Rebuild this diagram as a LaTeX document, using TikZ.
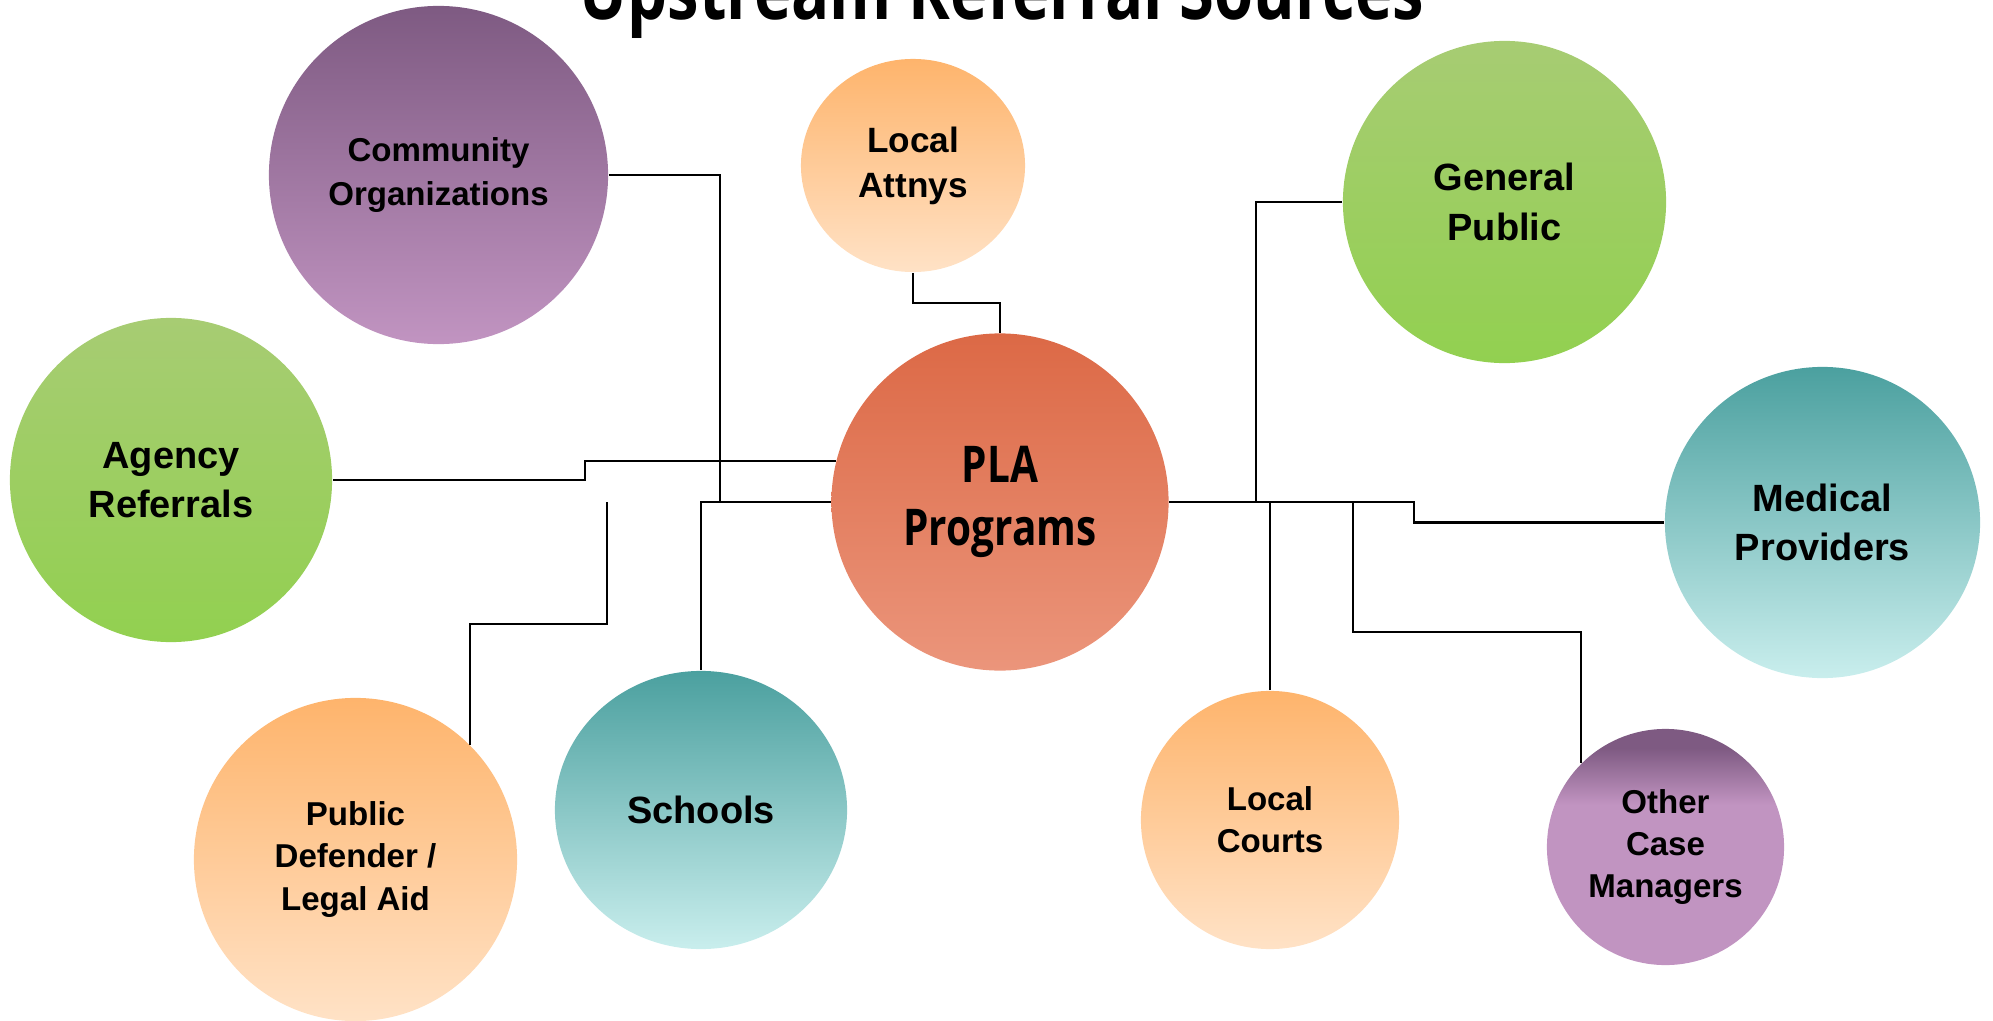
\documentclass[tikz,border=0pt]{standalone}
\usepackage{fontspec}
\setmainfont{Liberation Sans}
\newfontfamily\condfont[FakeStretch=0.8]{Open Sans}
\usetikzlibrary{shapes.geometric}

\definecolor{purpleTop}{HTML}{7E5A82}
\definecolor{purpleBot}{HTML}{C194C1}
\definecolor{orangeTop}{HTML}{FEB46C}
\definecolor{orangeBot}{HTML}{FFE2C6}
\definecolor{greenTop}{HTML}{A7CC73}
\definecolor{greenBot}{HTML}{92D050}
\definecolor{tealTop}{HTML}{4BA09F}
\definecolor{tealBot}{HTML}{C9EEED}
\definecolor{plaTop}{HTML}{DC6946}
\definecolor{plaBot}{HTML}{EB957B}

\pgfdeclareverticalshading{managershade}{100bp}{color(0bp)=(purpleBot); color(59bp)=(purpleBot); color(71bp)=(purpleTop); color(100bp)=(purpleTop)}

\begin{document}
\begin{tikzpicture}[x=0.01cm, y=-0.01cm,
    bubble/.style={ellipse, inner sep=0pt, align=center},
    bigtxt/.style={font=\bfseries\fontsize{10.8pt}{14pt}\selectfont},
    smalltxt/.style={font=\bfseries\fontsize{9.4pt}{12pt}\selectfont},
    purplefill/.style={top color=purpleTop, bottom color=purpleBot},
    orangefill/.style={top color=orangeTop, bottom color=orangeBot},
    greenfill/.style={top color=greenTop, bottom color=greenBot},
    tealfill/.style={top color=tealTop, bottom color=tealBot},
    link/.style={line width=0.6pt, black}]
    \useasboundingbox (0,0) rectangle (1993,1021);
    \clip (0,0) rectangle (1993,1021);

    % Title (cut at the top)
    \node[anchor=base, font=\condfont\bfseries\fontsize{22.5pt}{26pt}\selectfont] (title) at (1002,20) {Upstream Referral Sources};

    % Centre
    \node[bubble, top color=plaTop, middle color=plaBot, bottom color=plaBot,
        minimum width=3.37cm, minimum height=3.37cm,
        font=\condfont\bfseries\fontsize{14.4pt}{17.8pt}\selectfont] (pla) at (1000,502) {PLA\\Programs};

    % Sources
    \node[bubble, purplefill, font=\bfseries\fontsize{9.4pt}{12.4pt}\selectfont, minimum width=3.39cm, minimum height=3.38cm] (comm) at (438.5,175) {Community\\Organizations};
    \node[bubble, orangefill, font=\bfseries\fontsize{10pt}{12.8pt}\selectfont, minimum width=2.24cm, minimum height=2.13cm] (attny) at (913,165.5) {Local\\Attnys};
    \node[bubble, greenfill, bigtxt, minimum width=3.23cm, minimum height=3.22cm] (gp) at (1504.5,202) {General\\Public};
    \node[bubble, greenfill, bigtxt, minimum width=3.22cm, minimum height=3.24cm] (agency) at (171,480) {Agency\\Referrals};
    \node[bubble, tealfill, bigtxt, minimum width=3.15cm, minimum height=3.11cm] (med) at (1822.5,522.5) {Medical\\Providers};
    \node[bubble, orangefill, smalltxt, minimum width=3.23cm, minimum height=3.23cm] (pd) at (355.5,859.5) {Public\\Defender /\\Legal Aid};
    \node[bubble, tealfill, bigtxt, minimum width=2.92cm, minimum height=2.78cm] (school) at (701,810) {Schools};
    \node[bubble, orangefill, smalltxt, minimum width=2.58cm, minimum height=2.58cm] (courts) at (1270,820) {Local\\Courts};
    \node[bubble, shading=managershade, smalltxt, minimum width=2.37cm, minimum height=2.36cm] (ocm) at (1665.5,847) {Other\\Case\\Managers};

    % Junctions on the bus
    \coordinate (commjoin) at (720,502);
    \coordinate (pdend) at (607,502);
    \coordinate (gpjoin) at (1256,502);
    \coordinate (ocmjoin) at (1353,502);

    % Left side
    \draw[link] (comm.east) -| (commjoin);
    \draw[link] (attny.south) -- ++(0,30) -| (pla.north);
    \draw[link] (agency.east) -- ++(252,0) |- (pla.166);
    \draw[link] (pla.west) -| (school.north);
    \draw[link] (pd.45) -- ++(0,-121) -| (pdend);

    % Right side
    \draw[link] (gp.west) -| (gpjoin);
    \draw[link] (pla.east) -- ++(245,0) |- (med.west);
    \draw[link] (courts.north) -- (courts.north |- pla.east);
    \draw[link] (ocm.135) -- ++(0,-131) -| (ocmjoin);
\end{tikzpicture}
\end{document}
